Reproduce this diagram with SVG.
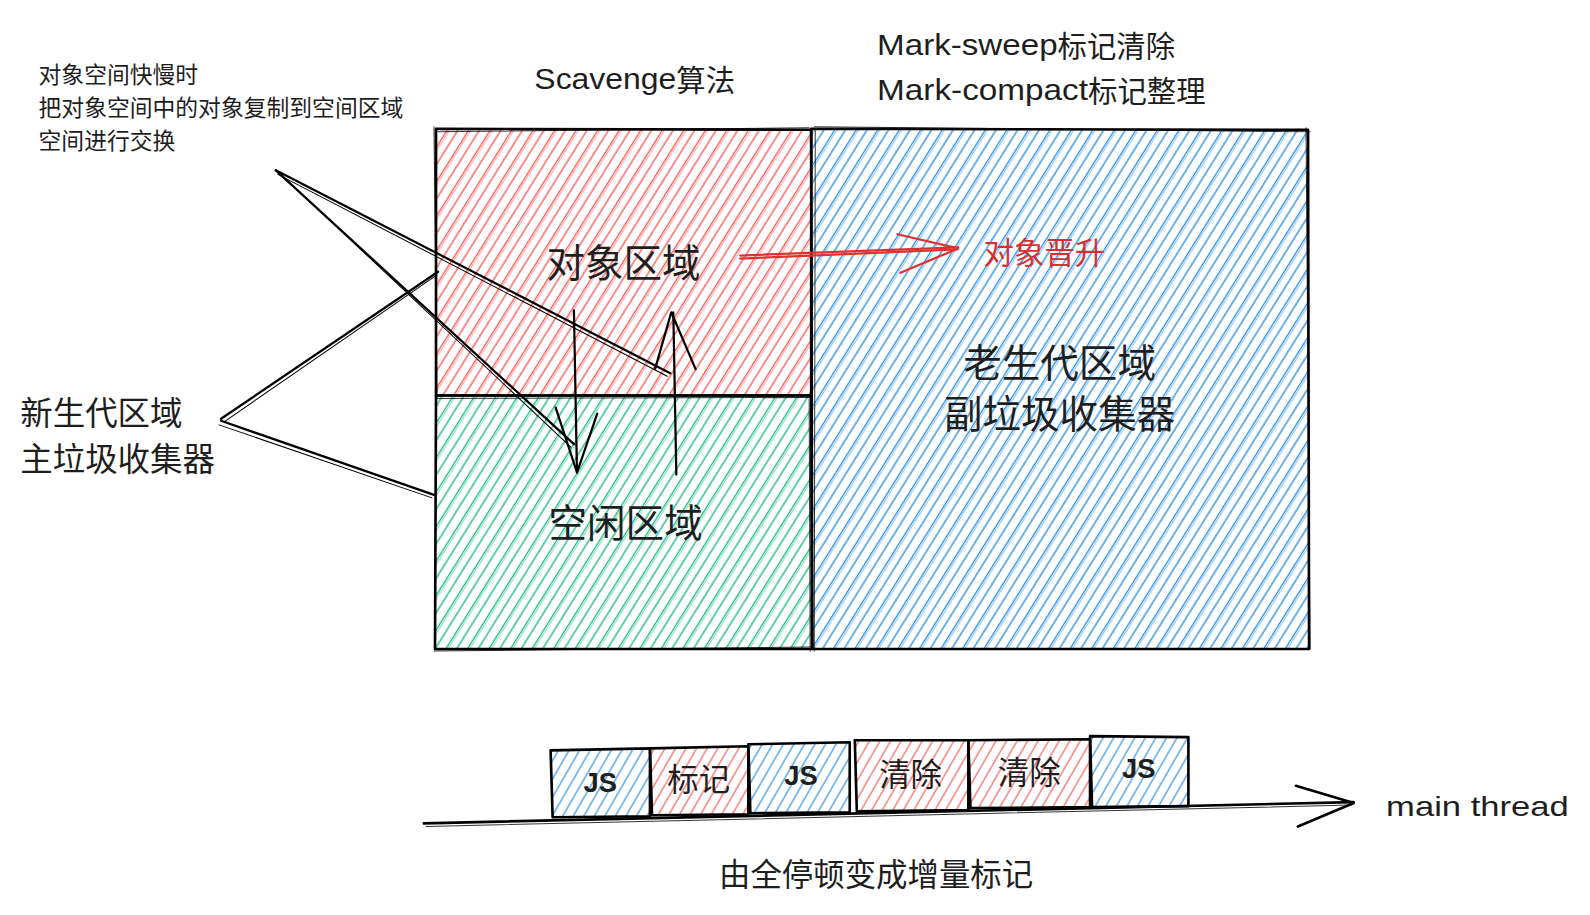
<svg xmlns="http://www.w3.org/2000/svg" width="1590" height="915" viewBox="0 0 1590 915">
<defs>
<pattern id="hRed" patternUnits="userSpaceOnUse" width="18" height="18" patternTransform="rotate(32)">
<line x1="1" y1="0" x2="1" y2="18" stroke="#fa5252" stroke-width="1.3"/>
<line x1="10" y1="0" x2="10" y2="18" stroke="#fa5252" stroke-width="1.3"/>
<line x1="12" y1="0" x2="12" y2="18" stroke="#fa5252" stroke-width="0.8" opacity="0.6"/>
</pattern>
<pattern id="hGreen" patternUnits="userSpaceOnUse" width="18" height="18" patternTransform="rotate(32)">
<line x1="1" y1="0" x2="1" y2="18" stroke="#12b886" stroke-width="1.3"/>
<line x1="10" y1="0" x2="10" y2="18" stroke="#12b886" stroke-width="1.3"/>
<line x1="12" y1="0" x2="12" y2="18" stroke="#12b886" stroke-width="0.8" opacity="0.6"/>
</pattern>
<pattern id="hBlue" patternUnits="userSpaceOnUse" width="18" height="18" patternTransform="rotate(32)">
<line x1="1" y1="0" x2="1" y2="18" stroke="#228be6" stroke-width="1.3"/>
<line x1="10" y1="0" x2="10" y2="18" stroke="#228be6" stroke-width="1.3"/>
<line x1="12" y1="0" x2="12" y2="18" stroke="#228be6" stroke-width="0.8" opacity="0.6"/>
</pattern>
<pattern id="sRed" patternUnits="userSpaceOnUse" width="9" height="9" patternTransform="rotate(30)">
<line x1="1" y1="0" x2="1" y2="9" stroke="#fa5252" stroke-width="1.1"/>
</pattern>
<pattern id="sBlue" patternUnits="userSpaceOnUse" width="9" height="9" patternTransform="rotate(30)">
<line x1="1" y1="0" x2="1" y2="9" stroke="#228be6" stroke-width="1.1"/>
</pattern>
</defs>
<style>
.edge{fill:none;stroke:#000;stroke-width:2.6;stroke-linecap:round;stroke-linejoin:round}
.edge2{fill:none;stroke:#000;stroke-width:1;stroke-linecap:round;opacity:0.8}
.ln{fill:none;stroke:#000;stroke-width:2.2;stroke-linecap:round;stroke-linejoin:round}
.ln2{fill:none;stroke:#000;stroke-width:1;stroke-linecap:round}
.red{fill:none;stroke:#e03131;stroke-width:2.2;stroke-linecap:round;stroke-linejoin:round}
.cjk{font-family:"Noto Sans CJK SC","Noto Sans",sans-serif;fill:#1e1e1e;dominant-baseline:central}
.hand{font-family:"Liberation Sans","Noto Sans CJK SC",sans-serif;fill:#1e1e1e;dominant-baseline:central}
</style>
<rect width="1590" height="915" fill="#ffffff"/>
<g transform="scale(1.014)">

<g id="node-young-object">
<rect x="430" y="127" width="370" height="263" fill="url(#hRed)"/>
<path class="edge" d="M430 127 L800 128 L800 390 L430 390 Z"/>
<path class="edge2" d="M432 130 L798 126 M428 125 L431 392"/>
<text class="cjk" x="615" y="256" font-size="38" text-anchor="middle">对象区域</text>
</g>

<g id="node-young-free">
<rect x="430" y="390" width="370" height="250" fill="url(#hGreen)"/>
<path class="edge" d="M430 390 L800 390 L801 640 L429 640 Z"/>
<path class="edge2" d="M431 393 L799 392 M428 642 L802 638 M798 392 L799 642"/>
<text class="cjk" x="617" y="513" font-size="38" text-anchor="middle">空闲区域</text>
</g>

<g id="node-old">
<rect x="800" y="127" width="490" height="513" fill="url(#hBlue)"/>
<path class="edge" d="M800 127 L1290 128 L1291 640 L801 640 Z"/>
<path class="edge2" d="M803 125 L1292 130 M804 129 L803 642 M1288 126 L1292 640"/>
<text class="cjk" x="1045" y="355" font-size="38" text-anchor="middle">老生代区域</text>
<text class="cjk" x="1045" y="405" font-size="38" text-anchor="middle">副垃圾收集器</text>
</g>

<g id="node-note">
<text class="cjk" x="38" y="72" font-size="22.5">对象空间快慢时</text>
<text class="cjk" x="38" y="105" font-size="22.5">把对象空间中的对象复制到空间区域</text>
<text class="cjk" x="38" y="138" font-size="22.5">空间进行交换</text>
</g>

<g id="node-young-label">
<text class="cjk" x="20" y="405" font-size="32">新生代区域</text>
<text class="cjk" x="20" y="450" font-size="32">主垃圾收集器</text>
</g>

<g id="node-scavenge">
<text class="hand" x="527" y="77" font-size="29"><tspan font-family="Liberation Sans, sans-serif" textLength="140" lengthAdjust="spacingAndGlyphs">Scavenge</tspan><tspan font-family="Noto Sans CJK SC, sans-serif">算法</tspan></text>
</g>

<g id="node-mark">
<text class="hand" x="865" y="43" font-size="29"><tspan font-family="Liberation Sans, sans-serif" textLength="178" lengthAdjust="spacingAndGlyphs">Mark-sweep</tspan><tspan font-family="Noto Sans CJK SC, sans-serif">标记清除</tspan></text>
<text class="hand" x="865" y="88" font-size="29"><tspan font-family="Liberation Sans, sans-serif" textLength="208" lengthAdjust="spacingAndGlyphs">Mark-compact</tspan><tspan font-family="Noto Sans CJK SC, sans-serif">标记整理</tspan></text>
</g>

<g id="node-promote">
<text class="cjk" x="970" y="248" font-size="30" style="fill:#d63030">对象晋升</text>
</g>

<g id="node-timeline">
<polygon points="543,740 641,738 641,805 545,806" fill="url(#sBlue)"/>
<path class="edge" d="M543 740 L641 738 L641 805 L545 806 Z"/>
<text class="hand" x="592" y="772" font-size="27" text-anchor="middle" font-weight="bold">JS</text>
<polygon points="641,738 738,736 738,803 643,804" fill="url(#sRed)"/>
<path class="edge" d="M641 738 L738 736 L738 803 L643 804 Z"/>
<text class="cjk" x="689" y="767" font-size="31" text-anchor="middle">标记</text>
<polygon points="738,734 838,732 838,801 740,802" fill="url(#sBlue)"/>
<path class="edge" d="M738 734 L838 732 L838 801 L740 802 Z"/>
<text class="hand" x="790" y="765" font-size="27" text-anchor="middle" font-weight="bold">JS</text>
<polygon points="843,730 955,730 955,799 845,800" fill="url(#sRed)"/>
<path class="edge" d="M843 730 L955 730 L955 799 L845 800 Z"/>
<text class="cjk" x="898" y="762" font-size="31" text-anchor="middle">清除</text>
<polygon points="955,730 1075,729 1075,796 957,797" fill="url(#sRed)"/>
<path class="edge" d="M955 730 L1075 729 L1075 796 L957 797 Z"/>
<text class="cjk" x="1015" y="760" font-size="31" text-anchor="middle">清除</text>
<polygon points="1075,726 1172,727 1172,795 1077,796" fill="url(#sBlue)"/>
<path class="edge" d="M1075 726 L1172 727 L1172 795 L1077 796 Z"/>
<text class="hand" x="1123" y="758" font-size="27" text-anchor="middle" font-weight="bold">JS</text>
<text class="hand" x="1367" y="795" font-size="28"><tspan textLength="180" lengthAdjust="spacingAndGlyphs">main thread</tspan></text>
<text class="cjk" x="864" y="860" font-size="31" text-anchor="middle">由全停顿变成增量标记</text>
</g>

<g id="connectors">
<path class="ln" d="M272 168 L566 438"/>
<path class="ln2" d="M275 170 L563 441"/>
<path class="ln" d="M272 168 L661 368"/>
<path class="ln2" d="M274 172 L658 371"/>
<path class="ln" d="M218 413 L432 268"/>
<path class="ln2" d="M221 416 L431 271"/>
<path class="ln" d="M218 415 L428 488"/>
<path class="ln2" d="M216 419 L426 491"/>
<path class="ln" d="M566 306 L569 466"/>
<path class="ln" d="M548 402 L569 466 L589 408"/>
<path class="ln" d="M667 468 L664 308"/>
<path class="ln" d="M646 364 L662 308 L686 364"/>
<path class="red" d="M730 252 L945 244"/>
<path class="red" d="M730 255 L944 246" stroke-width="1"/>
<path class="red" d="M885 231 L945 245 L888 269"/>
<path class="edge" d="M418 812 L1335 791"/>
<path class="edge2" d="M420 815 L1333 794"/>
<path class="edge" d="M1278 775 L1335 792 L1280 815"/>
</g>
</g>
</svg>
